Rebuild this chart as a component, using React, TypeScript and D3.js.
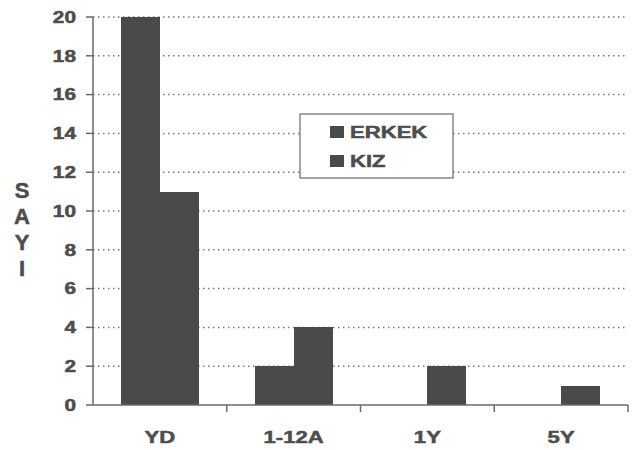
import React from "react";
import * as d3 from "d3";

const categories = ["YD", "1-12A", "1Y", "5Y"];
const seriesNames = ["ERKEK", "KIZ"];
const erkek = [20, 2, 0, 0];
const kiz = [11, 4, 2, 1];
const yTicks = [0, 2, 4, 6, 8, 10, 12, 14, 16, 18, 20];
const axisTitle = ["S", "A", "Y", "I"];

const W = 638;
const H = 450;
const margin = { left: 93, right: 10, top: 17, bottom: 45 };
const barColor = "#4a4a4a";
const textColor = "#4d4d4d";
const axisColor = "#6a6a6a";
const font = "'Liberation Sans', Arial, sans-serif";
const stretch = 1.3;

function Wide(props: {
  x: number;
  y: number;
  size: number;
  anchor?: "start" | "middle" | "end";
  dy?: string;
  children: React.ReactNode;
}) {
  return (
    <text
      transform={`translate(${props.x},${props.y}) scale(${stretch},1)`}
      textAnchor={props.anchor ?? "start"}
      dy={props.dy}
      fontSize={props.size}
      fill={textColor}
      stroke={textColor}
      strokeWidth={0.5}
    >
      {props.children}
    </text>
  );
}

export default function App() {
  const x = d3
    .scaleBand<string>()
    .domain(categories)
    .range([margin.left, W - margin.right])
    .paddingInner(0)
    .paddingOuter(0);
  const inner = d3
    .scaleBand<string>()
    .domain(seriesNames)
    .range([0, x.bandwidth()])
    .paddingInner(0)
    .paddingOuter(0.72);
  const y = d3.scaleLinear().domain([0, 20]).range([H - margin.bottom, margin.top]);
  const series = [erkek, kiz];
  const x0 = margin.left;
  const x1 = W - margin.right;
  const y0 = y(0);

  const legend = { x: 300, y: 114, w: 153, h: 64 };

  return (
    <svg
      width={W}
      height={H}
      style={{ position: "absolute", left: 0, top: 0, background: "#fff" }}
      fontFamily={font}
      fontWeight="bold"
    >
      {/* dotted grid */}
      {yTicks
        .filter((t) => t > 0)
        .map((t) => (
          <line
            key={"g" + t}
            x1={x0}
            x2={x1}
            y1={y(t)}
            y2={y(t)}
            stroke="#777"
            strokeWidth={1.5}
            strokeDasharray="1.5 3.5"
          />
        ))}

      {/* bars */}
      {categories.map((c, i) =>
        series.map((s, j) =>
          s[i] > 0 ? (
            <rect
              key={c + j}
              x={(x(c) ?? 0) + (inner(seriesNames[j]) ?? 0)}
              width={inner.bandwidth()}
              y={y(s[i])}
              height={y0 - y(s[i])}
              fill={barColor}
              shapeRendering="crispEdges"
            />
          ) : null
        )
      )}

      {/* y axis */}
      <line x1={x0} x2={x0} y1={y(20)} y2={y0} stroke={axisColor} strokeWidth={1.5} />
      {yTicks.map((t) => (
        <g key={"t" + t}>
          <line x1={x0 - 7} x2={x0} y1={y(t)} y2={y(t)} stroke={axisColor} strokeWidth={1.5} />
          <Wide x={76} y={y(t)} dy="0.36em" anchor="end" size={16}>
            {t}
          </Wide>
        </g>
      ))}

      {/* x axis */}
      <line x1={x0} x2={x1} y1={y0} y2={y0} stroke={axisColor} strokeWidth={1.5} />
      {categories.map((c) => (
        <g key={"x" + c}>
          <line
            x1={(x(c) ?? 0) + x.bandwidth()}
            x2={(x(c) ?? 0) + x.bandwidth()}
            y1={y0}
            y2={y0 + 7}
            stroke={axisColor}
            strokeWidth={1.5}
          />
          <Wide x={(x(c) ?? 0) + x.bandwidth() / 2} y={443} anchor="middle" size={17}>
            {c}
          </Wide>
        </g>
      ))}

      {/* axis title, stacked letters */}
      {axisTitle.map((ch, i) => (
        <text
          key={"a" + i}
          x={22}
          y={198 + i * 26}
          textAnchor="middle"
          fontSize={22}
          fill={textColor}
          stroke={textColor}
          strokeWidth={0.5}
        >
          {ch}
        </text>
      ))}

      {/* legend */}
      <rect
        x={legend.x}
        y={legend.y}
        width={legend.w}
        height={legend.h}
        fill="#fff"
        stroke={axisColor}
        strokeWidth={1.2}
      />
      {seriesNames.map((n, i) => (
        <g key={"l" + n}>
          <rect x={330} y={126 + i * 29} width={14} height={12} fill={barColor} />
          <Wide x={350} y={138 + i * 29} size={17}>
            {n}
          </Wide>
        </g>
      ))}
    </svg>
  );
}
